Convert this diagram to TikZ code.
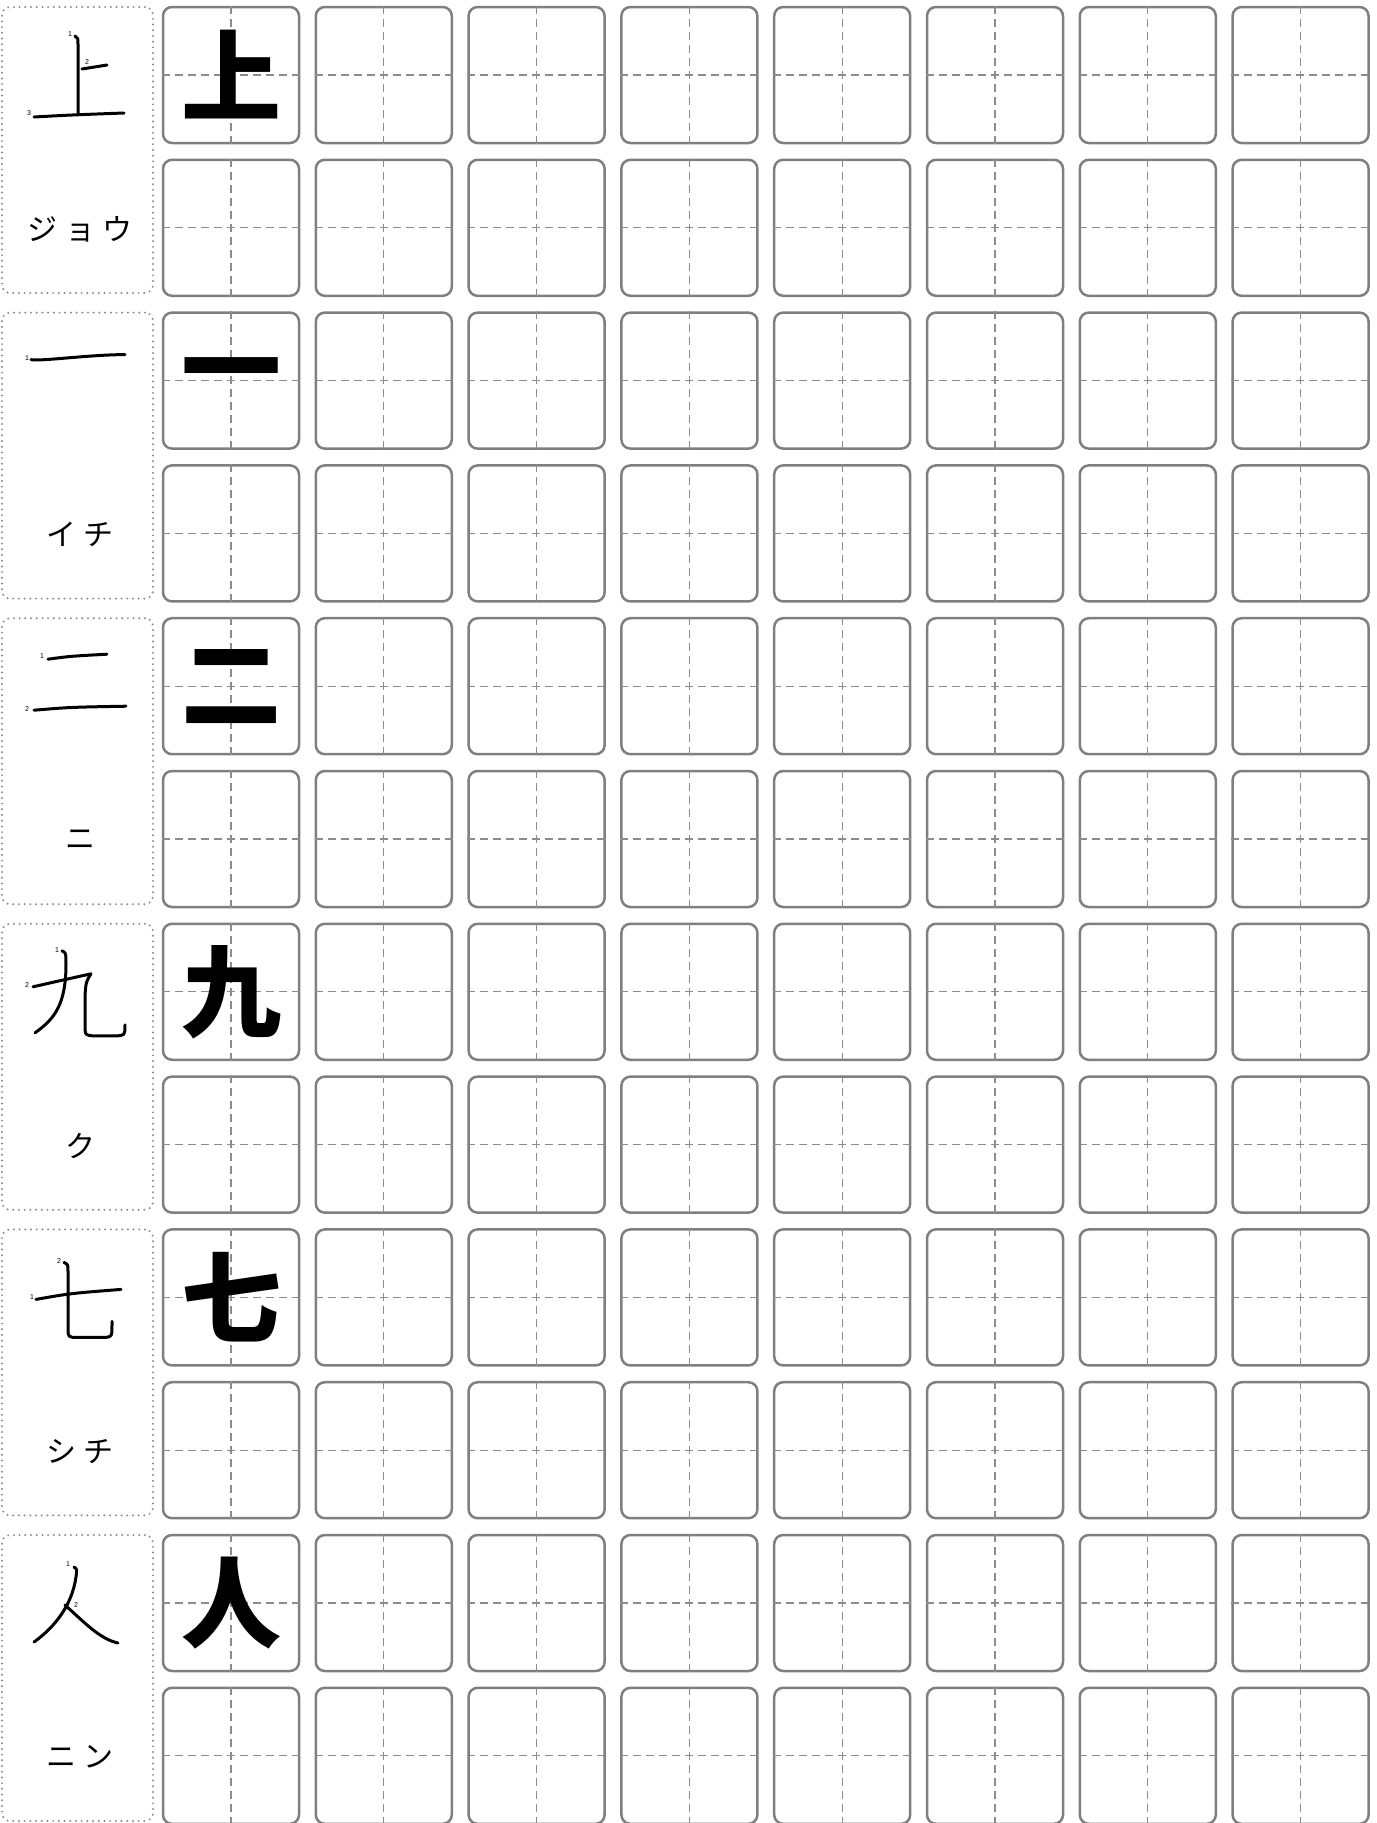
\documentclass[tikz,border=0pt]{standalone}
\usepackage{fontspec}
\setsansfont{Liberation Sans}
\newfontfamily\jpfont{Noto Sans CJK JP}
\newfontfamily\kanafont[LetterSpace=25]{Noto Sans CJK JP}
\definecolor{cellgray}{HTML}{7F7F7F}
\definecolor{guidegray}{HTML}{8C8C8C}
\definecolor{dotgray}{HTML}{8A8A8A}

\begin{document}
\begin{tikzpicture}[x=1pt,y=-1pt,
	cell/.style={draw=cellgray,line width=2.5pt,rounded corners=9pt,minimum size=136pt,inner sep=0pt},
	guide/.style={draw=guidegray,line width=1.1pt,dash pattern=on 8pt off 5pt},
	panel/.style={draw=dotgray,line width=2.2pt,line cap=round,dash pattern=on 0pt off 5.7pt,rounded corners=8pt,minimum width=151pt,minimum height=286pt,inner sep=0pt},
	strokeline/.style={line width=3pt,line cap=round,line join=round},
	strokenum/.style={font=\sffamily\fontsize{7}{7}\selectfont,inner sep=0pt},
	brush/.style={font=\jpfont\bfseries\fontsize{100}{100}\selectfont,inner sep=0pt},
	reading/.style={font=\kanafont\fontsize{30}{30}\selectfont,inner sep=0pt}]
	\useasboundingbox (0,0) rectangle (1376,1823);
	\foreach \r in {0,...,11}
		\foreach \c in {0,...,7} {
			\node[cell] (b\r-\c) at (231+\c*152.8,75+\r*152.8) {};
			\draw[guide] (b\r-\c.north) -- (b\r-\c.south);
			\draw[guide] (b\r-\c.west) -- (b\r-\c.east);
		}
	\foreach \g/\kan/\yomi in {0/上/ジョウ,1/一/イチ,2/二/ニ,3/九/ク,4/七/シチ,5/人/ニン} {
		\pgfmathtruncatemacro\rr{2*\g}
		\node[panel] (p\g) at (77.5,150+\g*305.6) {};
		\node[brush] (k\g) at (b\rr-0) {\kan};
		\node[reading] (y\g) at (80,229+\g*305.6) {\yomi};
	}
	\begin{scope}[shift={(0,7)}]
		\draw[strokeline] (75,29) .. controls (78,31) .. (78,37) -- (78,106);
		\draw[strokeline] (82,62) -- (107,58);
		\draw[strokeline] (34,110) .. controls (70,108) .. (124,106);
		\node[strokenum] (s0-1) at (70,27) {1};
		\node[strokenum] (s0-2) at (87,55) {2};
		\node[strokenum] (s0-3) at (29,106) {3};
	\end{scope}
	\begin{scope}[shift={(0,312.6)}]
		\draw[strokeline] (31,47) .. controls (40,49) and (90,42) .. (125,42);
		\node[strokenum] (s1-1) at (27,45) {1};
	\end{scope}
	\begin{scope}[shift={(0,618.2)}]
		\draw[strokeline] (48,41) .. controls (70,38) .. (107,36);
		\draw[strokeline] (34,92) .. controls (70,89) .. (126,88);
		\node[strokenum] (s2-1) at (42,38) {1};
		\node[strokenum] (s2-2) at (27,91) {2};
	\end{scope}
	\begin{scope}[shift={(0,923.8)}]
		\draw[strokeline] (62,27) .. controls (66,29) .. (66,40) .. controls (66,80) and (55,95) .. (35,109);
		\draw[strokeline] (33,63) .. controls (55,58) .. (91,50) .. controls (86,58) .. (85,72) -- (85,100) .. controls (85,112) .. (96,112) -- (114,112) .. controls (125,112) .. (125,101);
		\node[strokenum] (s3-1) at (57,26) {1};
		\node[strokenum] (s3-2) at (27,61) {2};
	\end{scope}
	\begin{scope}[shift={(0,1229.4)}]
		\draw[strokeline] (36,70) .. controls (70,64) .. (121,60);
		\draw[strokeline] (64,33) .. controls (68,35) .. (68,42) -- (68,98) .. controls (68,108) .. (78,108) -- (100,108) .. controls (112,108) .. (112,96) -- (112,92);
		\node[strokenum] (s4-1) at (32,68) {1};
		\node[strokenum] (s4-2) at (59,32) {2};
	\end{scope}
	\begin{scope}[shift={(0,1535)}]
		\draw[strokeline] (74,32) .. controls (77,34) .. (76,42) .. controls (72,70) and (55,92) .. (34,107);
		\draw[strokeline] (65,70) .. controls (85,88) and (100,104) .. (118,108);
		\node[strokenum] (s5-1) at (68,29) {1};
		\node[strokenum] (s5-2) at (76,70) {2};
	\end{scope}
\end{tikzpicture}
\end{document}
